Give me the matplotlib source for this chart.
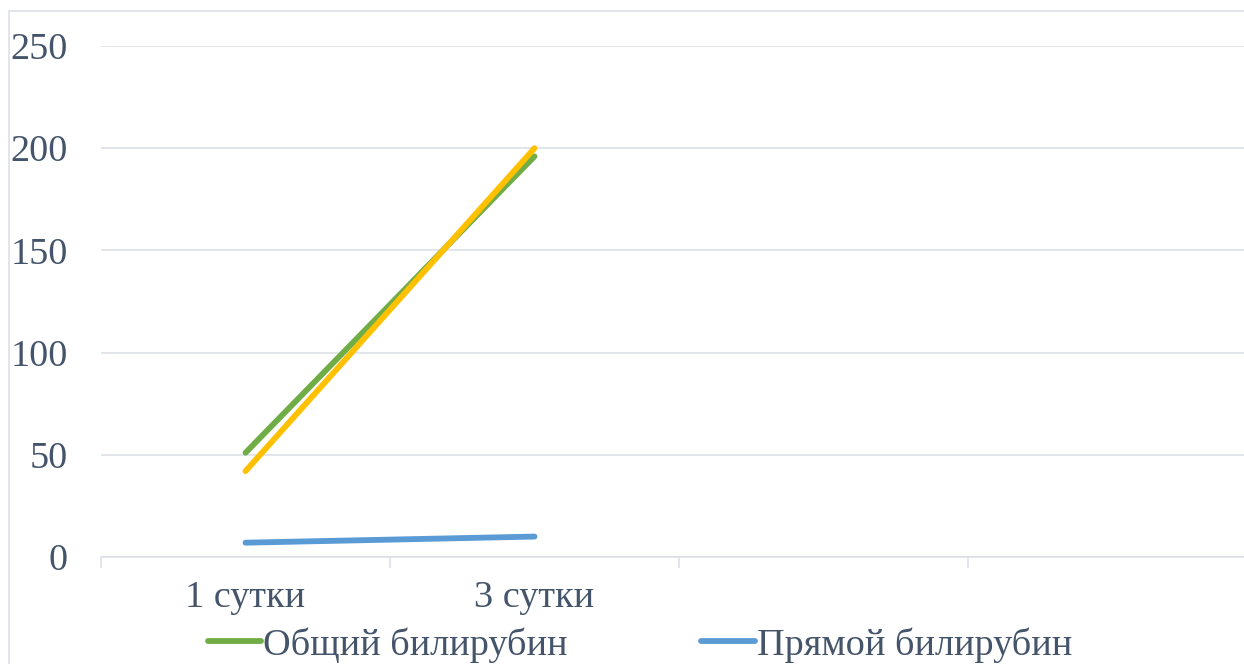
import numpy as np
import matplotlib
matplotlib.use('Agg')
import matplotlib.pyplot as plt
from matplotlib.patches import Rectangle

# Values
categories = ['1 сутки', '3 сутки', '', '']
total_bili = [51, 196]      # Общий билирубин (green)
direct_bili = [7, 10]       # Прямой билирубин (blue)
indirect_bili = [42, 200]   # third series (yellow), legend entry cut off

plt.rcParams['font.family'] = ['Liberation Serif', 'DejaVu Serif']
TEXT = '#44546a'
GRID = '#dde1e7'
FS = 27.5

W, H = 1244, 664
fig = plt.figure(figsize=(W / 100, H / 100), dpi=100)

# chart-area border (runs off the right and bottom edge of the picture)
fig.patches.append(Rectangle((9 / W, -0.2), 1.2, 1 - 11 / H + 0.2,
                             transform=fig.transFigure, fill=False,
                             edgecolor=GRID, linewidth=1.2))

left, right, top, bottom = 101, 1257, 46, 557
ax = fig.add_axes([left / W, 1 - bottom / H, (right - left) / W, (bottom - top) / H])

x = np.arange(len(total_bili))
l_total, = ax.plot(x, total_bili, color='#70ad47', lw=4.2,
                   solid_capstyle='round', label='Общий билирубин')
l_direct, = ax.plot(x, direct_bili, color='#5b9bd5', lw=4.2,
                    solid_capstyle='round', label='Прямой билирубин')
l_ind, = ax.plot(x, indirect_bili, color='#ffc000', lw=4.2,
                 solid_capstyle='round', label='Непрямой билирубин')

ax.set_xlim(-0.5, len(categories) - 0.5)
ax.set_ylim(0, 250)
ax.set_yticks(np.arange(0, 251, 50))
ax.yaxis.grid(True, color=GRID, linewidth=1.2)
ax.set_axisbelow(True)

for s in ['top', 'right', 'left']:
    ax.spines[s].set_visible(False)
ax.spines['bottom'].set_color(GRID)
ax.spines['bottom'].set_linewidth(1.2)

# category boundaries carry the tick marks, labels sit at centres
ax.set_xticks(np.arange(-0.5, len(categories), 1.0))
ax.set_xticklabels([])
ax.tick_params(axis='x', which='major', length=8, width=1.2, color=GRID, direction='out')
ax.set_xticks(np.arange(len(categories)), minor=True)
ax.set_xticklabels(categories, minor=True)
ax.tick_params(axis='x', which='minor', length=0, pad=17, labelsize=FS, labelcolor=TEXT)
ax.tick_params(axis='y', length=0, pad=24, labelsize=FS, labelcolor=TEXT)

fig.legend(handles=[l_total, l_direct], loc='center', ncol=2,
           bbox_to_anchor=(640 / W, 1 - 645 / H), frameon=False,
           fontsize=FS, labelcolor=TEXT, handlelength=1.4,
           handletextpad=0.05, columnspacing=3.5)

fig.savefig('out.png', dpi=100)
